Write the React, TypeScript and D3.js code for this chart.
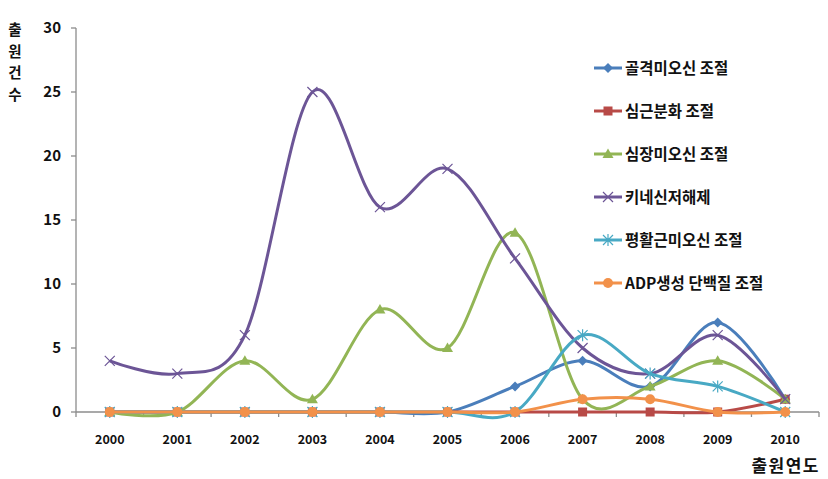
import React from "react";
import * as d3 from "d3";

const years = ["2000","2001","2002","2003","2004","2005","2006","2007","2008","2009","2010"];
const seriesNames = ["골격미오신 조절","심근분화 조절","심장미오신 조절","키네신저해제","평활근미오신 조절","ADP생성 단백질 조절"];
const skeletal = [0,0,0,0,0,0,2,4,2,7,1];
const cardiacDiff = [0,0,0,0,0,0,0,0,0,0,1];
const cardiacMyosin = [0,0,4,1,8,5,14,1,2,4,1];
const kinesin = [4,3,6,25,16,19,12,5,3,6,1];
const smoothMuscle = [0,0,0,0,0,0,0,6,3,2,0];
const adp = [0,0,0,0,0,0,0,1,1,0,0];
const yTicks = [0,5,10,15,20,25,30];

const colors = ["#4A7EBB","#B84A47","#92B555","#6C5596","#48A9C4","#F2914A"];
const markers = ["diamond","square","triangle","x","asterisk","circle"];
const allValues = [skeletal, cardiacDiff, cardiacMyosin, kinesin, smoothMuscle, adp];

const FONT = "'Noto Sans CJK KR', 'Noto Sans', sans-serif";

function Marker({ type, x, y, color }: { type: string; x: number; y: number; color: string }) {
  const s = 5;
  switch (type) {
    case "diamond":
      return <path d={`M${x},${y - s}L${x + s},${y}L${x},${y + s}L${x - s},${y}Z`} fill={color} />;
    case "square":
      return <rect x={x - 4.5} y={y - 4.5} width={9} height={9} fill={color} />;
    case "triangle":
      return <path d={`M${x},${y - 5.5}L${x + 5.5},${y + 4}L${x - 5.5},${y + 4}Z`} fill={color} />;
    case "x":
      return <path d={`M${x - 5},${y - 5}L${x + 5},${y + 5}M${x - 5},${y + 5}L${x + 5},${y - 5}`} stroke={color} strokeWidth={1.2} />;
    case "asterisk":
      return <path d={`M${x - 5},${y - 5}L${x + 5},${y + 5}M${x - 5},${y + 5}L${x + 5},${y - 5}M${x},${y - 6}L${x},${y + 6}`} stroke={color} strokeWidth={1.2} />;
    case "circle":
      return <circle cx={x} cy={y} r={5} fill={color} />;
    default:
      return null;
  }
}

export default function App() {
  const W = 828, H = 479;
  const left = 76, right = 819, top = 28, bottom = 412;
  const x = d3.scaleBand().domain(years).range([left, right]);
  const y = d3.scaleLinear().domain([0, 30]).range([bottom, top]);
  const cx = (yr: string) => (x(yr) as number) + x.bandwidth() / 2;
  const line = d3.line<number>()
    .x((_, i) => cx(years[i]))
    .y((d) => y(d))
    .curve(d3.curveCardinal.tension(0));

  const legendX = 594, legendY0 = 68, legendDy = 43;

  return (
    <svg width={W} height={H} style={{ position: "absolute", left: 0, top: 0, background: "#fff" }} fontFamily={FONT}>
      <rect width={W} height={H} fill="#fff" />
      {/* axes */}
      <line x1={left} x2={left} y1={top} y2={bottom} stroke="#8C8C8C" strokeWidth={1.3} />
      <line x1={left} x2={right} y1={bottom} y2={bottom} stroke="#8C8C8C" strokeWidth={1.3} />
      {yTicks.map((t) => (
        <g key={t}>
          <line x1={left - 5} x2={left} y1={y(t)} y2={y(t)} stroke="#8C8C8C" strokeWidth={1.3} />
          <text x={61} y={y(t)} dy="0.35em" textAnchor="end" fontSize={15} fontWeight="bold" fill="#111">{t}</text>
        </g>
      ))}
      {years.map((yr) => (
        <line key={"t" + yr} x1={(x(yr) as number)} x2={(x(yr) as number)} y1={bottom} y2={bottom + 5} stroke="#8C8C8C" strokeWidth={1.3} />
      ))}
      <line x1={right} x2={right} y1={bottom} y2={bottom + 5} stroke="#8C8C8C" strokeWidth={1.3} />
      {years.map((yr) => (
        <text key={"l" + yr} x={cx(yr)} y={440} dy="0.35em" textAnchor="middle" fontSize={12.5} fontWeight="bold" fill="#111">{yr}</text>
      ))}
      {/* axis titles */}
      <text x={820} y={466} dy="0.35em" textAnchor="end" fontSize={17} fontWeight="bold" letterSpacing={1.5} fill="#111">출원연도</text>
      {"출원건수".split("").map((ch, i) => (
        <text key={"yt" + i} x={15} y={30 + i * 21.5} dy="0.35em" textAnchor="middle" fontSize={14.5} fontWeight="bold" fill="#111">{ch}</text>
      ))}
      {/* series */}
      {allValues.map((vals, si) => (
        <g key={"s" + si}>
          <path d={line(vals) || ""} fill="none" stroke={colors[si]} strokeWidth={3} />
          {vals.map((v, i) => (
            <Marker key={i} type={markers[si]} x={cx(years[i])} y={y(v)} color={colors[si]} />
          ))}
        </g>
      ))}
      {/* legend */}
      {seriesNames.map((name, si) => {
        const ly = legendY0 + si * legendDy;
        return (
          <g key={"lg" + si}>
            <line x1={legendX} x2={legendX + 28} y1={ly} y2={ly} stroke={colors[si]} strokeWidth={3} />
            <Marker type={markers[si]} x={legendX + 14} y={ly} color={colors[si]} />
            <text x={legendX + 31} y={ly} dy="0.38em" fontSize={15.5} fontWeight="bold" fill="#111">{name}</text>
          </g>
        );
      })}
    </svg>
  );
}
